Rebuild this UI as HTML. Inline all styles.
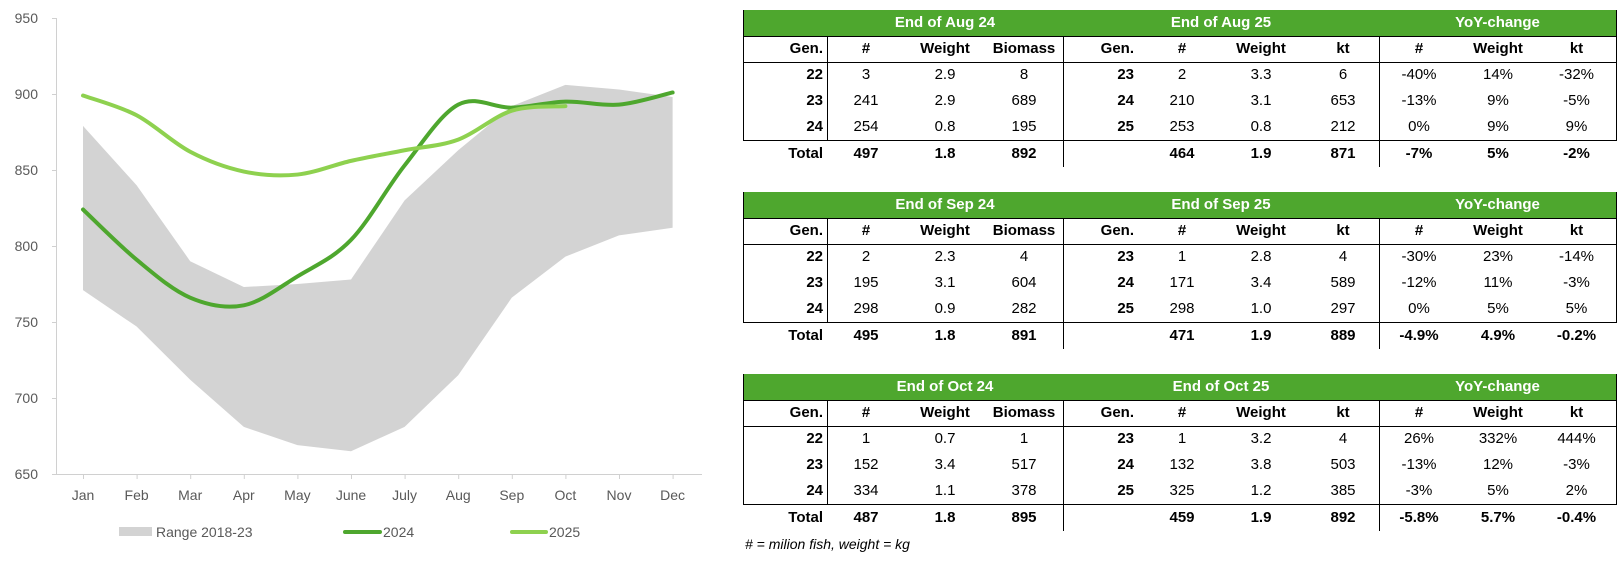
<!DOCTYPE html>
<html><head><meta charset="utf-8">
<style>
html,body{margin:0;padding:0;background:#fff;width:1624px;height:565px;overflow:hidden;position:relative}
body{font-family:"Liberation Sans",sans-serif}
.a{position:absolute;white-space:nowrap}
.ln{position:absolute;background:#000}
.g{position:absolute;background:#4EA72E}
.t{position:absolute;font-size:15px;line-height:26px;height:26px;color:#000;white-space:nowrap}
.b{font-weight:bold}
.h{color:#fff;font-weight:bold;font-size:15px}
</style></head><body>
<svg id="ch" width="710" height="565" style="position:absolute;left:0;top:0" xmlns="http://www.w3.org/2000/svg"></svg>
<div id="tb"></div>
<div class="a" style="left:745px;top:536px;font-size:14px;font-style:italic">#&nbsp;=&nbsp;milion fish, weight = kg</div>
<script>
(function(){
var s='';
function X(i){return 83+53.6*i}
function Y(v){return 18+(950-v)*1.52}
s+='<line x1="56.5" y1="18" x2="56.5" y2="474" stroke="#d0d0d0" stroke-width="1"/>';
s+='<line x1="52" y1="474.5" x2="702" y2="474.5" stroke="#d0d0d0" stroke-width="1"/>';
s+='<line x1="52" y1="18.5" x2="56" y2="18.5" stroke="#d0d0d0"/>';
[950,900,850,800,750,700,650].forEach(function(v){
 s+='<text x="38" y="'+(Y(v)+5)+'" text-anchor="end" font-size="14" fill="#595959" font-family="Liberation Sans">'+v+'</text>';
 s+='<line x1="52" y1="'+(Y(v)+.5)+'" x2="56" y2="'+(Y(v)+.5)+'" stroke="#d0d0d0"/>';
});
var m=['Jan','Feb','Mar','Apr','May','June','July','Aug','Sep','Oct','Nov','Dec'];
m.forEach(function(t,i){
 s+='<line x1="'+(X(i)+.5)+'" y1="474" x2="'+(X(i)+.5)+'" y2="479" stroke="#d0d0d0"/>';
 s+='<text x="'+X(i)+'" y="500" text-anchor="middle" font-size="14" fill="#595959" font-family="Liberation Sans">'+t+'</text>';
});
var top=[879,840,790,773,775,778,830,863,892,906,903,898];
var bot=[771,747,712,681,669,665,681,715,766,793,807,812];
var p='M';
top.forEach(function(v,i){p+=X(i)+','+Y(v)+' L';});
for(var i=11;i>=0;i--){p+=X(i)+','+Y(bot[i])+(i?' L':' Z');}
s+='<path d="'+p+'" fill="#d3d3d3"/>';
function smooth(d){
 var pts=d.map(function(v,i){return [X(i),Y(v)]});
 var r='M'+pts[0][0]+','+pts[0][1];
 for(var i=0;i<pts.length-1;i++){
  var p0=pts[i-1]||pts[i],p1=pts[i],p2=pts[i+1],p3=pts[i+2]||p2;
  var c1=[p1[0]+(p2[0]-p0[0])/6,p1[1]+(p2[1]-p0[1])/6];
  var c2=[p2[0]-(p3[0]-p1[0])/6,p2[1]-(p3[1]-p1[1])/6];
  r+=' C'+c1[0]+','+c1[1]+' '+c2[0]+','+c2[1]+' '+p2[0]+','+p2[1];
 }
 return r;
}
var d24=[824,791,766,761,780,804,853,893,891,895,893,901];
var d25=[899,886,862,849,847,856,863,870,889,892];
s+='<path d="'+smooth(d24)+'" fill="none" stroke="#4EA72E" stroke-width="4" stroke-linecap="round"/>';
s+='<path d="'+smooth(d25)+'" fill="none" stroke="#8ED14F" stroke-width="4" stroke-linecap="round"/>';
s+='<rect x="119" y="527" width="33" height="9" fill="#d3d3d3"/>';
s+='<text x="156" y="537" font-size="14" fill="#595959" font-family="Liberation Sans">Range 2018-23</text>';
s+='<line x1="345" y1="532" x2="380" y2="532" stroke="#4EA72E" stroke-width="4" stroke-linecap="round"/>';
s+='<text x="383" y="537" font-size="14" fill="#595959" font-family="Liberation Sans">2024</text>';
s+='<line x1="512" y1="532" x2="546" y2="532" stroke="#8ED14F" stroke-width="4" stroke-linecap="round"/>';
s+='<text x="549" y="537" font-size="14" fill="#595959" font-family="Liberation Sans">2025</text>';
document.getElementById('ch').innerHTML=s;

var cols=[[743,84],[827,78],[905,80],[985,78],[1063,86],[1149,66],[1215,92],[1307,72],[1379,80],[1459,78],[1537,79]];
var T=[
 {t:10,h:['End of Aug 24','End of Aug 25'],r:[
  ['22','3','2.9','8','23','2','3.3','6','-40%','14%','-32%'],
  ['23','241','2.9','689','24','210','3.1','653','-13%','9%','-5%'],
  ['24','254','0.8','195','25','253','0.8','212','0%','9%','9%'],
  ['Total','497','1.8','892','','464','1.9','871','-7%','5%','-2%']]},
 {t:192,h:['End of Sep 24','End of Sep 25'],r:[
  ['22','2','2.3','4','23','1','2.8','4','-30%','23%','-14%'],
  ['23','195','3.1','604','24','171','3.4','589','-12%','11%','-3%'],
  ['24','298','0.9','282','25','298','1.0','297','0%','5%','5%'],
  ['Total','495','1.8','891','','471','1.9','889','-4.9%','4.9%','-0.2%']]},
 {t:374,h:['End of Oct 24','End of Oct 25'],r:[
  ['22','1','0.7','1','23','1','3.2','4','26%','332%','444%'],
  ['23','152','3.4','517','24','132','3.8','503','-13%','12%','-3%'],
  ['24','334','1.1','378','25','325','1.2','385','-3%','5%','2%'],
  ['Total','487','1.8','895','','459','1.9','892','-5.8%','5.7%','-0.4%']]}
];
var hd=['Gen.','#','Weight','Biomass','Gen.','#','Weight','kt','#','Weight','kt'];
var o='';
function cell(x,w,y,txt,cls,align){
 var st='left:'+x+'px;top:'+y+'px;width:'+w+'px;text-align:'+align+';';
 if(align=='right'){st='left:'+x+'px;top:'+y+'px;width:'+(w-(x==743?4:15))+'px;text-align:right;';}
 o+='<div class="t '+cls+'" style="'+st+'">'+txt+'</div>';
}
T.forEach(function(tb){
 var t=tb.t;
 o+='<div class="g" style="left:743px;top:'+t+'px;width:873px;height:26px"></div>';
 o+='<div class="t h" style="left:827px;top:'+t+'px;width:236px;text-align:center">'+tb.h[0]+'</div>';
 o+='<div class="t h" style="left:1063px;top:'+t+'px;width:316px;text-align:center">'+tb.h[1]+'</div>';
 o+='<div class="t h" style="left:1379px;top:'+t+'px;width:237px;text-align:center">YoY-change</div>';
 hd.forEach(function(txt,i){
  var al=(i==0||i==4)?'right':'center';
  cell(cols[i][0],cols[i][1],t+26,txt,'b',al);
 });
 tb.r.forEach(function(row,ri){
  var y=t+52+ri*26;
  row.forEach(function(txt,i){
   var al=(i==0||i==4)?'right':'center';
   var cls=(i==0||i==4||ri==3)?'b':'';
   cell(cols[i][0],cols[i][1],y+(ri==3?1:0),txt,cls,al);
  });
 });
 function H(y){o+='<div class="ln" style="left:743px;top:'+y+'px;width:874px;height:1px"></div>';}
 function V(x,y1,y2){o+='<div class="ln" style="left:'+x+'px;top:'+y1+'px;width:1px;height:'+(y2-y1)+'px"></div>';}
 H(t+26);H(t+52);H(t+130);
 V(743,t,t+131);V(827,t+26,t+130);V(1063,t+26,t+157);V(1379,t+26,t+157);V(1616,t,t+131);
});
document.getElementById('tb').innerHTML=o;
})();
</script>
</body></html>
